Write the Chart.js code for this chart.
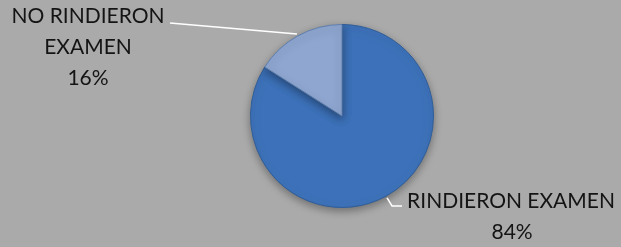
<!DOCTYPE html>
<html>
<head>
<meta charset="utf-8">
<script src="https://cdn.jsdelivr.net/npm/chart.js@4.4.1/dist/chart.umd.min.js"></script>
<style>
  html, body { margin: 0; padding: 0; background: #aaaaaa; }
  #wrap { width: 621px; height: 247px; position: relative; }
</style>
</head>
<body>
<div id="wrap"><canvas id="pie"></canvas></div>
<script>
// datos del gráfico
const categorias = ['RINDIERON EXAMEN', 'NO RINDIERON EXAMEN'];
const porcentajes = [84, 16];
// líneas de texto de cada etiqueta
const lineasEtiqueta = [
    ['RINDIERON EXAMEN', '84%'],
    ['NO RINDIERON', 'EXAMEN', '16%']
];
const colores = ['#3d72ba', '#8ea6d0'];

// etiquetas con línea guía, estilo Excel
const etiquetasPlugin = {
    id: 'etiquetas',
    afterDraw(chart) {
        const ctx = chart.ctx;
        const meta = chart.getDatasetMeta(0);
        ctx.save();
        ctx.font = '21px Lato, "Open Sans", sans-serif';
        ctx.fillStyle = '#141414';
        ctx.textAlign = 'center';
        ctx.textBaseline = 'middle';
        ctx.strokeStyle = '#ffffff';
        ctx.lineWidth = 1.5;

        meta.data.forEach((arc, i) => {
            const p = arc.getProps(['x', 'y', 'startAngle', 'endAngle', 'outerRadius'], true);
            const mid = (p.startAngle + p.endAngle) / 2;
            const r = p.outerRadius + 2;
            const ax = p.x + Math.cos(mid) * r;
            const ay = p.y + Math.sin(mid) * r;
            const lines = lineasEtiqueta[i];
            ctx.beginPath();
            if (i === 0) {
                // abajo a la derecha
                ctx.moveTo(ax, ay);
                ctx.lineTo(ax + 5, ay + 8);
                ctx.lineTo(ax + 15, ay + 8);
                ctx.stroke();
                ctx.fillText(lines[0], ax + 124, ay + 3);
                ctx.fillText(lines[1], ax + 125, ay + 34);
            } else {
                // arriba a la izquierda
                ctx.moveTo(ax, ay);
                ctx.lineTo(170, 23);
                ctx.stroke();
                lines.forEach((t, k) => ctx.fillText(t, 88, 16 + k * 31));
            }
        });
        ctx.restore();
    }
};

// sombra suave bajo el pastel
const sombraPlugin = {
    id: 'sombra',
    beforeDatasetsDraw(chart) {
        const ctx = chart.ctx;
        ctx.save();
        ctx.shadowColor = 'rgba(0,0,0,0.35)';
        ctx.shadowBlur = 8;
        ctx.shadowOffsetY = 3;
    },
    afterDatasetsDraw(chart) {
        chart.ctx.restore();
    }
};

new Chart(document.getElementById('pie'), {
    type: 'pie',
    data: {
        labels: categorias,
        datasets: [{
            data: porcentajes,
            backgroundColor: colores,
            borderColor: ['#2f5d98', '#5f7fae'],
            borderWidth: 1
        }]
    },
    options: {
        responsive: true,
        maintainAspectRatio: false,
        animation: false,
        layout: { padding: { left: 250, right: 187, top: 24, bottom: 39 } },
        plugins: {
            legend: { display: false },
            tooltip: { enabled: false }
        }
    },
    plugins: [sombraPlugin, etiquetasPlugin]
});
</script>
</body>
</html>
